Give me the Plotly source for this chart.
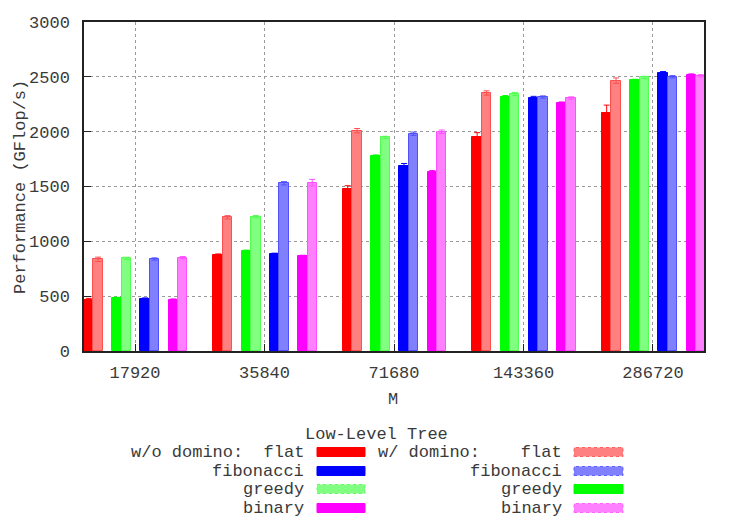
import plotly.graph_objects as go

# problem sizes (M)
sizes = ["17920", "35840", "71680", "143360", "286720"]

# performance in GFlop/s, w/o and w/ domino, per low-level tree
wo_flat = [465, 875, 1477, 1951, 2167]
w_flat = [836, 1219, 2009, 2352, 2465]
wo_greedy = [480, 910, 1778, 2319, 2468]
w_greedy = [845, 1225, 1948, 2343, 2495]
wo_fib = [474, 882, 1690, 2307, 2538]
w_fib = [839, 1529, 1981, 2316, 2501]
wo_bin = [465, 863, 1635, 2261, 2517]
w_bin = [851, 1535, 2000, 2307, 2510]

# error bars (+/-)
wo_flat_err = [15, 10, 30, 40, 75]
w_flat_err = [20, 15, 20, 20, 25]
wo_greedy_err = [10, 10, 10, 10, 10]
w_greedy_err = [10, 10, 10, 15, 10]
wo_fib_err = [10, 10, 20, 15, 10]
w_fib_err = [10, 15, 15, 10, 10]
wo_bin_err = [10, 10, 10, 10, 10]
w_bin_err = [10, 30, 15, 10, 10]

FONT = "Liberation Mono"
TXT = "#3a3a3a"

# plot area in pixels (747x523 page)
W, H = 747, 523
L, R, T, B = 84, 704, 22, 351


def px(x):
    return (x - L) / (R - L)


def py(y):
    return (B - y) / (B - T)


bar_w = 0.0726
start = -0.394

series = [
    # (values, errors, fill, edge)
    (wo_flat, wo_flat_err, "#ff0000", "#ff0000"),
    (w_flat, w_flat_err, "#ff8080", "#ff5050"),
    (wo_greedy, wo_greedy_err, "#00ff00", "#00ff00"),
    (w_greedy, w_greedy_err, "#80ff80", "#50ff50"),
    (wo_fib, wo_fib_err, "#0000ff", "#0000ff"),
    (w_fib, w_fib_err, "#8080ff", "#5050ff"),
    (wo_bin, wo_bin_err, "#ff00ff", "#ff00ff"),
    (w_bin, w_bin_err, "#ff80ff", "#ff50ff"),
]

fig = go.Figure()
for i, (vals, errs, fill, edge) in enumerate(series):
    pair, member = divmod(i, 2)
    fig.add_trace(go.Bar(
        x=sizes, y=vals,
        offset=start + pair * 3 * bar_w + member * bar_w,
        width=bar_w,
        marker=dict(color=fill, line=dict(color=edge, width=1)),
        error_y=dict(type="data", array=errs, color=edge, thickness=1, width=3),
        showlegend=False,
    ))

axis_common = dict(
    showline=True, linecolor="#222222", linewidth=1.5, mirror=True,
    showgrid=True, gridcolor="#9a9a9a", griddash="dot", gridwidth=1,
    ticks="inside", ticklen=7, tickcolor="#222222",
    tickfont=dict(family=FONT, size=17, color=TXT),
    zeroline=False,
)

fig.update_xaxes(type="category", range=[-0.394, 4.394], ticklabelstandoff=5, **axis_common)
fig.update_yaxes(range=[0, 3000], dtick=500, ticklabelstandoff=9, **axis_common)

annotations = [
    dict(text="M", x=px(393), y=py(399)),
    dict(text="Performance (GFlop/s)", x=px(20), y=py(187), textangle=-90),
    dict(text="Low-Level Tree", x=px(376), y=py(434)),
]

# custom legend (labels right-aligned to the left of each swatch)
rows_y = [452, 471, 489, 508]
left_labels = ["w/o domino:  flat", "fibonacci", "greedy", "binary"]
right_labels = ["w/ domino:    flat", "fibonacci", "greedy", "binary"]
# swatch colours as drawn in the reference legend (greedy pair swapped there)
left_sw = [("#ff0000", "#ff0000", "solid"), ("#0000ff", "#0000ff", "solid"),
           ("#80ff80", "#60ff60", "dot"), ("#ff00ff", "#ff00ff", "solid")]
right_sw = [("#ff8080", "#ff6060", "dot"), ("#8080ff", "#6060ff", "dot"),
            ("#00ff00", "#00ff00", "solid"), ("#ff80ff", "#ff60ff", "dot")]

shapes = []
for ry, lt, rt, ls, rs in zip(rows_y, left_labels, right_labels, left_sw, right_sw):
    annotations.append(dict(text=lt, x=px(306), y=py(ry), xanchor="right"))
    annotations.append(dict(text=rt, x=px(564), y=py(ry), xanchor="right"))
    for (x0, x1), (fc, lc, dash) in (((317, 365), ls), ((574, 623), rs)):
        shapes.append(dict(
            type="rect", xref="paper", yref="paper",
            x0=px(x0), x1=px(x1), y0=py(ry + 4.5), y1=py(ry - 4.5),
            fillcolor=fc, line=dict(color=lc, width=1, dash=dash),
        ))

for a in annotations:
    a.setdefault("xanchor", "center")
    a.update(xref="paper", yref="paper", yanchor="middle", showarrow=False,
             font=dict(family=FONT, size=17, color=TXT))

fig.update_layout(
    width=W, height=H,
    margin=dict(l=L, r=W - R, t=T, b=H - B),
    plot_bgcolor="white", paper_bgcolor="white",
    barmode="overlay", bargap=0,
    annotations=annotations, shapes=shapes,
)

# drop the default 8px body margin so the figure sits at the page corner
fig.write_html("out.html", config={"displayModeBar": False},
               post_script="document.body.style.margin='0';")
